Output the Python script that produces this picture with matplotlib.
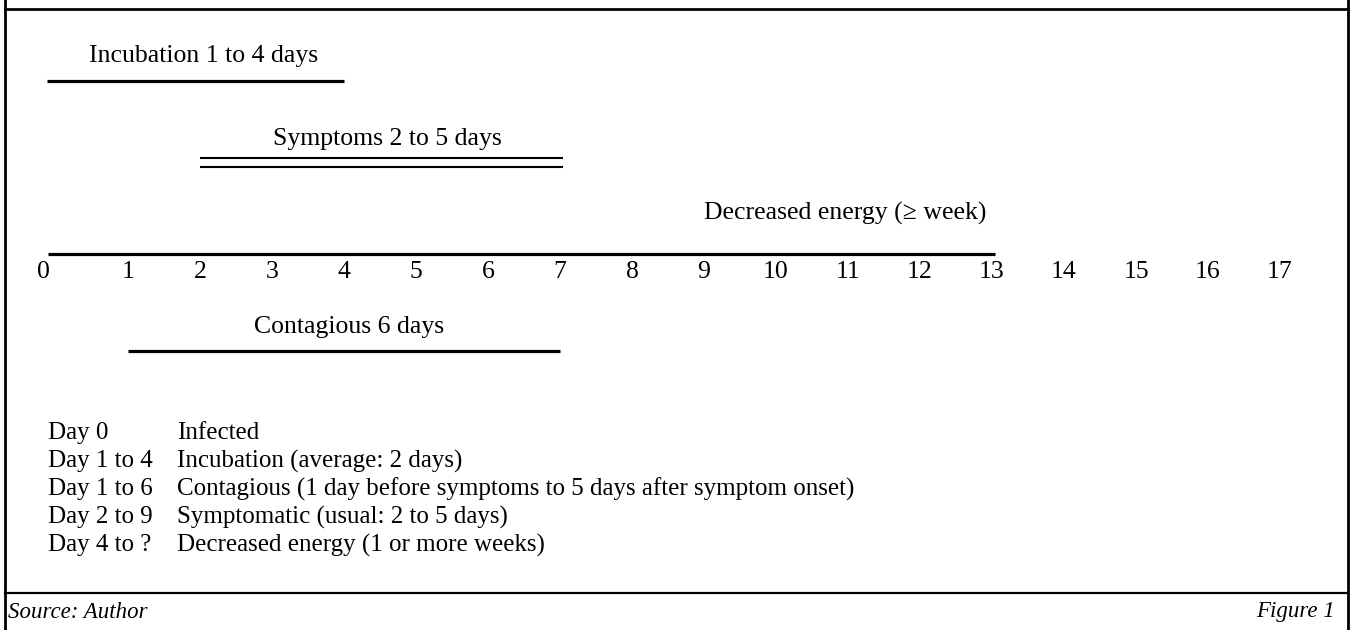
import matplotlib
matplotlib.use("Agg")
import matplotlib.pyplot as plt
from matplotlib.lines import Line2D

# =========================
# DATA
# =========================
days = list(range(0, 18))

span_names = ["Incubation", "Symptoms", "Decreased energy", "Contagious"]
span_labels = ["Incubation 1 to 4 days", "Symptoms 2 to 5 days",
               "Decreased energy (\u2265 week)", "Contagious 6 days"]
span_start = [-0.12, 2.0, -0.11, 1.0]
span_end = [4.0, 7.04, 13.04, 7.0]

legend_days = ["Day 0", "Day 1 to 4", "Day 1 to 6", "Day 2 to 9", "Day 4 to ?"]
legend_text = ["Infected",
               "Incubation (average: 2 days)",
               "Contagious (1 day before symptoms to 5 days after symptom onset)",
               "Symptomatic (usual: 2 to 5 days)",
               "Decreased energy (1 or more weeks)"]

source_text = "Source: Author"
figure_text = "Figure 1"

# =========================
# FIGURE
# =========================
W, H = 1352, 630
plt.rcParams["font.family"] = ["Liberation Serif", "DejaVu Serif"]

fig = plt.figure(figsize=(W / 100, H / 100), dpi=100)
ax = fig.add_axes([0, 0, 1, 1])
ax.set_xlim(-56 / 72, (W - 56) / 72)   # one day = 72 px
ax.set_ylim(H, 0)                       # y in pixels, top down
ax.axis("off")


def fx(x):
    return x / W


def fy(y):
    return 1 - y / H


# frame
lw_frame = 2.0
fig.add_artist(Line2D([fx(5), fx(5)], [0, 1], color="black", lw=lw_frame, transform=fig.transFigure))
fig.add_artist(Line2D([fx(1348), fx(1348)], [0, 1], color="black", lw=lw_frame, transform=fig.transFigure))
fig.add_artist(Line2D([fx(5), fx(1348)], [fy(9), fy(9)], color="black", lw=lw_frame, transform=fig.transFigure))
fig.add_artist(Line2D([fx(5), fx(1348)], [fy(593), fy(593)], color="black", lw=1.6, transform=fig.transFigure))

# span lines + labels
line_y = [81, None, 254, 351]
label_y = [56, 139, 213, 327]
label_x = [2.05, 4.6, 10.96, 4.07]
for i, name in enumerate(span_names):
    if name == "Symptoms":
        for yy in (158, 167):
            ax.plot([span_start[i], span_end[i]], [yy, yy], color="black", lw=1.5,
                    solid_capstyle="butt")
    else:
        ax.plot([span_start[i], span_end[i]], [line_y[i], line_y[i]], color="black", lw=2.3,
                solid_capstyle="butt")
    ax.text(label_x[i], label_y[i], span_labels[i], fontsize=18.5, ha="center", va="center")

# day numbers
for d in days:
    xd = d - 0.17 if d == 0 else d
    ax.text(xd, 272, str(d), fontsize=18.5, ha="center", va="center")

# legend rows
row_y = [433, 461, 489, 517, 545]
for i in range(len(legend_days)):
    fig.text(fx(48), fy(row_y[i]), legend_days[i], fontsize=18, ha="left", va="center")
    fig.text(fx(177), fy(row_y[i]), legend_text[i], fontsize=18, ha="left", va="center")

# footer
fig.text(fx(8), fy(612), source_text, fontsize=16.5, style="italic", ha="left", va="center")
fig.text(fx(1335), fy(612), figure_text, fontsize=16.5, style="italic", ha="right", va="center")

fig.savefig("out.png", dpi=100)
